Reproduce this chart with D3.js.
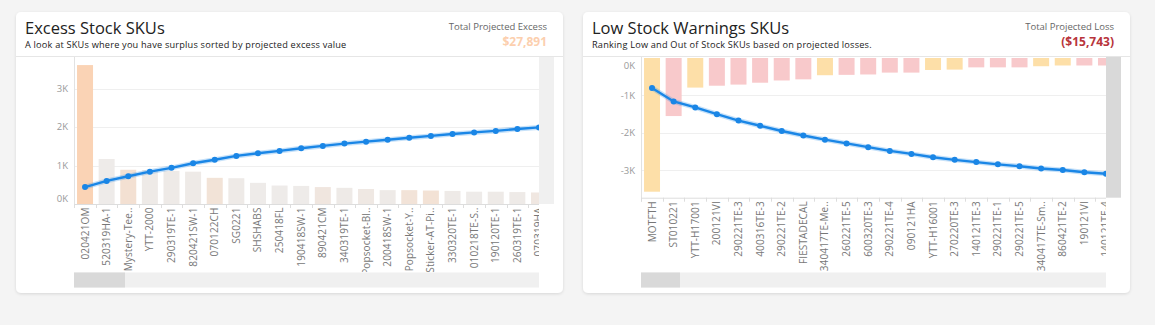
<!DOCTYPE html>
<html>
<head>
<meta charset="utf-8">
<script src="https://cdn.jsdelivr.net/npm/d3@7"></script>
<style>
  html, body { margin:0; padding:0; background:#f4f4f4; }
  svg { display:block; font-family:"Open Sans", "Noto Sans", sans-serif; }
</style>
</head>
<body>
<svg id="chart" width="1155" height="325"></svg>
<script>
// ===== DATA =====
const excessSkus = ["020421OM","520319HA-1","Mystery-Tee..","YTT-2000","290319TE-1","820421SW-1","070122CH","SG0221","SHSHABS","250418FL","190418SW-1","890421CM","340319TE-1","Popsocket-Bl..","200418SW-1","Popsocket-Y..","Sticker-AT-Pi..","330320TE-1","010218TE-S..","190120TE-1","260319TE-1","070319HA"];
const excessValues = [3610,1170,890,880,860,840,680,670,550,480,470,440,420,390,360,360,350,340,320,320,310,300];
const excessTint = [1,0,0.45,0.03,0.03,0.03,0.35,0.03,0,0,0,0.2,0.03,0.12,0.03,0.32,0.38,0.03,0,0.03,0.03,0.15];
const excessLine = [440,600,720,840,940,1060,1150,1250,1320,1380,1450,1510,1570,1620,1670,1720,1770,1820,1860,1900,1950,1990];
const excessTicks = [0,1000,2000,3000];

const lowSkus = ["MOTFTH","ST010221","YTT-H17001","200121VI","290221TE-3","400316TE-3","290221TE-2","FIESTADECAL","340417TE-Me..","260221TE-5","600320TE-3","290221TE-4","090121HA","YTT-H16001","270220TE-3","140121TE-3","290221TE-1","290221TE-5","340417TE-Sm..","860421TE-2","190121VI","140121TE-4"];
const lowValues = [-3570,-1550,-790,-740,-710,-660,-600,-570,-460,-450,-440,-390,-390,-320,-310,-250,-250,-250,-220,-200,-200,-200];
const lowStatus = ["Out","Low","Out","Low","Low","Low","Low","Low","Out","Low","Low","Low","Low","Out","Out","Low","Low","Low","Out","Out","Low","Low"];
const lowLine = [-800,-1160,-1320,-1500,-1670,-1810,-1950,-2070,-2180,-2280,-2380,-2480,-2560,-2650,-2720,-2780,-2840,-2890,-2950,-2990,-3050,-3090];
const lowTicks = [0,-1000,-2000,-3000];

const svg = d3.select("#chart");
const fmtK = d => (d/1000) + "K";

// shadow for cards
const defs = svg.append("defs");
const f = defs.append("filter").attr("id","shadow").attr("x","-5%").attr("y","-5%").attr("width","110%").attr("height","115%");
f.append("feDropShadow").attr("dx",0).attr("dy",1).attr("stdDeviation",1.5).attr("flood-color","#000").attr("flood-opacity",0.12);

function card(cfg){
  const g = svg.append("g");
  g.append("rect").attr("x",cfg.x).attr("y",12).attr("width",547).attr("height",281).attr("rx",5)
    .attr("fill","#fff").attr("filter","url(#shadow)");
  g.append("text").attr("x",cfg.x+9).attr("y",34).attr("font-size",16.5).attr("fill","#222").text(cfg.title);
  g.append("text").attr("x",cfg.x+9).attr("y",48).attr("font-size",9.2).attr("letter-spacing",0.2).attr("fill","#222").text(cfg.subtitle);
  g.append("text").attr("x",cfg.x+531).attr("y",30).attr("font-size",9.5).attr("fill","#666").attr("text-anchor","end").text(cfg.totalLabel);
  g.append("text").attr("x",cfg.x+531).attr("y",46).attr("font-size",12).attr("font-weight","bold").attr("fill",cfg.totalColor).attr("text-anchor","end").text(cfg.total);
  g.append("line").attr("x1",cfg.x).attr("x2",cfg.x+547).attr("y1",56.5).attr("y2",56.5).attr("stroke","#e6e6e6");
  return g;
}

function chart(cfg){
  const g = card(cfg);
  const left = cfg.x+58, right = cfg.x+523, top = 57, bottom = cfg.axisY;
  const clipId = "clip"+cfg.x;
  defs.append("clipPath").attr("id",clipId).append("rect").attr("x",left).attr("y",top).attr("width",right-left).attr("height",300);

  const x = d3.scaleBand().domain(cfg.skus).range([left, left+476]).paddingInner(0.26).paddingOuter(0.14);
  const y = d3.scaleLinear().domain(cfg.domain).range(cfg.range);

  // gridlines
  g.append("g").selectAll("line").data(cfg.ticks.filter(t=>t!==0)).join("line")
    .attr("x1",left).attr("x2",right).attr("y1",d=>Math.round(y(d))+0.5).attr("y2",d=>Math.round(y(d))+0.5)
    .attr("stroke","#efefef");

  // y axis labels
  g.append("g").selectAll("text").data(cfg.ticks).join("text")
    .attr("x",left-6).attr("y",d=>Math.max(top+9, Math.min(bottom-5, y(d))))
    .attr("dy","0.35em").attr("text-anchor","end").attr("font-size",9.5).attr("fill","#999")
    .text(fmtK);
  g.append("line").attr("x1",left+0.5).attr("x2",left+0.5).attr("y1",top).attr("y2",bottom+4).attr("stroke","#e2e2e2");

  const plot = g.append("g").attr("clip-path",`url(#${clipId})`);
  plot.selectAll("rect.bar").data(cfg.skus).join("rect").attr("class","bar")
    .attr("x",d=>x(d)).attr("width",x.bandwidth())
    .attr("y",(d,i)=>Math.min(y(0),y(cfg.values[i])))
    .attr("height",(d,i)=>Math.abs(y(cfg.values[i])-y(0)))
    .attr("fill",(d,i)=>cfg.color(i));

  // x axis
  plot.append("line").attr("x1",left).attr("x2",right).attr("y1",bottom+0.5).attr("y2",bottom+0.5).attr("stroke","#ddd");
  plot.selectAll("line.tick").data(cfg.skus).join("line").attr("class","tick")
    .attr("x1",d=>Math.round(x(d)-x.step()*x.paddingInner()/2)+0.5).attr("x2",d=>Math.round(x(d)-x.step()*x.paddingInner()/2)+0.5)
    .attr("y1",bottom).attr("y2",bottom+4).attr("stroke","#ddd");

  const line = d3.line().x((d,i)=>x(cfg.skus[i])+x.bandwidth()/2).y(d=>y(d));
  plot.append("path").datum(cfg.line).attr("d",line).attr("fill","none").attr("stroke","#1a86e6").attr("stroke-opacity",0.25).attr("stroke-width",5);
  plot.append("path").datum(cfg.line).attr("d",line).attr("fill","none").attr("stroke","#1a86e6").attr("stroke-width",2.4);
  plot.selectAll("circle").data(cfg.line).join("circle")
    .attr("cx",(d,i)=>x(cfg.skus[i])+x.bandwidth()/2).attr("cy",d=>y(d)).attr("r",3).attr("fill","#1a86e6");

  // x labels
  const labClip = "lab"+cfg.x;
  defs.append("clipPath").attr("id",labClip).append("rect").attr("x",left).attr("y",bottom).attr("width",right-left).attr("height",272-bottom);
  g.append("g").attr("clip-path",`url(#${labClip})`).selectAll("text").data(cfg.skus).join("text")
    .attr("transform",d=>`translate(${x(d)+x.bandwidth()/2},${bottom+3.5}) rotate(-90)`)
    .attr("dy","0.35em").attr("text-anchor","end").attr("font-size",10).attr("letter-spacing",0.12).attr("fill","#777").text(d=>d);

  // scrollbars
  g.append("rect").attr("x",right).attr("y",top).attr("width",15).attr("height",bottom-top).attr("fill",cfg.vScroll);
  g.append("rect").attr("x",left).attr("y",272.5).attr("width",right-left).attr("height",15).attr("fill","#f0f0f0");
  g.append("rect").attr("x",left).attr("y",272.5).attr("width",cfg.thumb).attr("height",15).attr("fill","#d9d9d9");
}

const tint = d3.interpolateRgb("#eeebe9","#fad3b5");
chart({
  x:16, title:"Excess Stock SKUs",
  subtitle:"A look at SKUs where you have surplus sorted by projected excess value",
  totalLabel:"Total Projected Excess", total:"$27,891", totalColor:"#fccfae",
  skus:excessSkus, values:excessValues, line:excessLine, ticks:excessTicks,
  domain:[0,3820], range:[204,57], axisY:204,
  color:i=>tint(excessTint[i]), vScroll:"#f0f0f0", thumb:51
});

const statusColor = {Low:"#f8c9cb", Out:"#fddfa8"};
chart({
  x:583, title:"Low Stock Warnings SKUs",
  subtitle:"Ranking Low and Out of Stock SKUs based on projected losses.",
  totalLabel:"Total Projected Loss", total:"($15,743)", totalColor:"#b8343b",
  skus:lowSkus, values:lowValues, line:lowLine, ticks:lowTicks,
  domain:[-3730,0], range:[197.7,58], axisY:197.7,
  color:i=>statusColor[lowStatus[i]], vScroll:"#d9d9d9", thumb:39
});
</script>
</body>
</html>
